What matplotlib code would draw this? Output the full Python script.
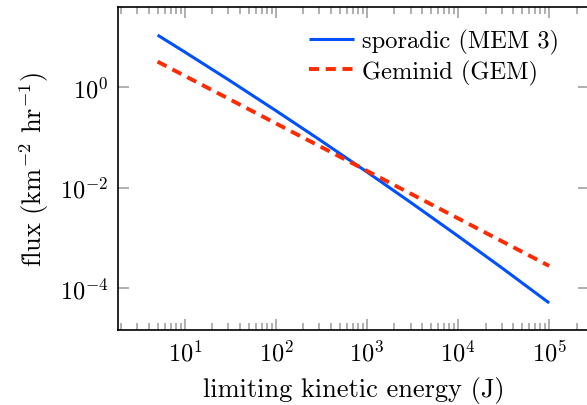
import numpy as np
import matplotlib
matplotlib.use("Agg")
import matplotlib.pyplot as plt
from matplotlib.ticker import FixedLocator, LogLocator, NullLocator, NullFormatter

plt.rcParams['font.family'] = 'serif'
plt.rcParams['font.serif'] = ['cmr10']
plt.rcParams['mathtext.fontset'] = 'cm'
plt.rcParams['axes.unicode_minus'] = False
plt.rcParams['axes.formatter.use_mathtext'] = True

# data (limiting kinetic energy in J, flux in km^-2 hr^-1)
energy_sporadic = [5, 10, 30, 100, 300, 1000, 3000, 1e4, 3e4, 1e5]
flux_sporadic = [10.7, 4.90, 1.389, 0.3365, 0.0897, 0.0204, 5.12e-3, 1.089e-3, 2.58e-4, 5.13e-5]

energy_geminid = [5, 10, 100, 1000, 1e4, 1e5]
flux_geminid = [3.18, 1.65, 0.188, 0.0215, 2.45e-3, 2.79e-4]

label_sporadic = 'sporadic (MEM 3)'
label_geminid = 'Geminid (GEM)'
y_ticks = [1e-4, 1e-2, 1e0]
y_ticklabels = [r'$10^{-4}$', r'$10^{-2}$', r'$10^{0}$']
x_ticks = [1e1, 1e2, 1e3, 1e4, 1e5]
x_ticklabels = [r'$10^{1}$', r'$10^{2}$', r'$10^{3}$', r'$10^{4}$', r'$10^{5}$']

fig = plt.figure(figsize=(5.87, 4.06), dpi=100)
ax = fig.add_axes([0.201, 0.1847, 0.802, 0.7956])

ax.plot(energy_sporadic, flux_sporadic, color='#0050ff', lw=2.2, label=label_sporadic,
        solid_capstyle='butt')
ax.plot(energy_geminid, flux_geminid, color='#ff2a00', lw=2.8, dashes=(2.6, 1.7),
        label=label_geminid, dash_capstyle='butt')

ax.set_xscale('log')
ax.set_yscale('log')
ax.set_xlim(10**0.264, 10**5.435)
ax.set_ylim(10**-4.827, 10**1.587)

ax.xaxis.set_major_locator(FixedLocator(x_ticks))
ax.set_xticklabels(x_ticklabels)
ax.xaxis.set_minor_locator(LogLocator(base=10, subs=np.arange(2, 10)))
ax.xaxis.set_minor_formatter(NullFormatter())
ax.yaxis.set_major_locator(FixedLocator(y_ticks))
ax.set_yticklabels(y_ticklabels)
ax.yaxis.set_minor_locator(NullLocator())

ax.tick_params(which='both', direction='in', top=True, right=True, color='#9a9a9a',
               labelsize=17.5, width=1.1)
ax.tick_params(which='major', length=8, pad=7)
ax.tick_params(which='minor', length=5)

for s in ax.spines.values():
    s.set_linewidth(1.2)

ax.set_xlabel('limiting kinetic energy (J)', fontsize=19, labelpad=8)
ax.set_ylabel(r'flux (km$^{-2}$ hr$^{-1}$)', fontsize=19, labelpad=6)

leg = ax.legend(loc='upper left', bbox_to_anchor=(0.405, 0.932), frameon=False,
                fontsize=17.6, handlelength=1.85, handletextpad=0.32, labelspacing=0.22,
                borderaxespad=0.0, borderpad=0.0)

fig.savefig('out.png', dpi=100)
